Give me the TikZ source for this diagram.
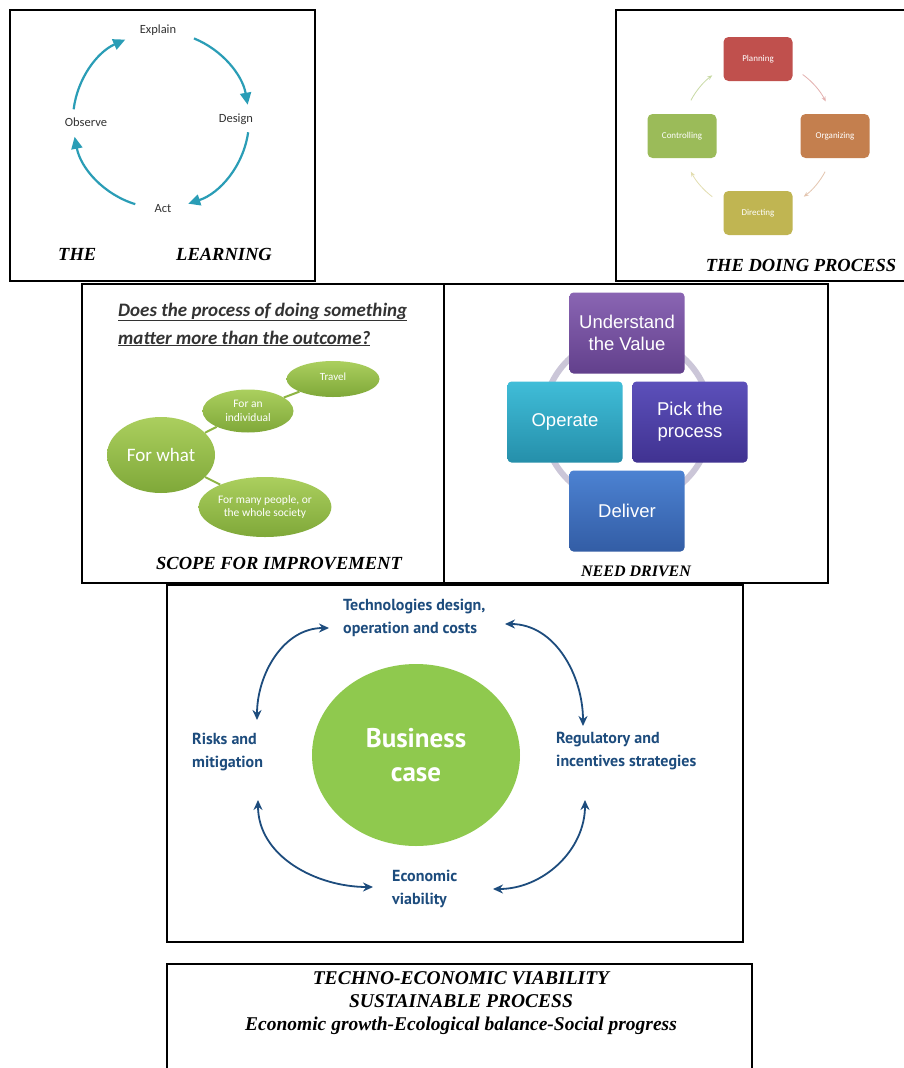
\documentclass[tikz,border=0pt]{standalone}
\usepackage{fontspec}
\setmainfont{Liberation Serif}
\newfontfamily\carl{Carlito}
\newfontfamily\arial{Liberation Sans}
\newfontfamily\ptsans{PT Sans}
\usetikzlibrary{arrows.meta,shapes.geometric,calc}

\definecolor{cycteal}{HTML}{2A9DB6}
\definecolor{plan}{HTML}{C0504D}
\definecolor{orgz}{HTML}{C47F4E}
\definecolor{dirc}{HTML}{C0B552}
\definecolor{ctrl}{HTML}{9BBB59}
\definecolor{leafhi}{HTML}{ABCF5E}
\definecolor{leaflo}{HTML}{7FA839}
\definecolor{twigc}{HTML}{8DB443}
\definecolor{ringc}{HTML}{CBC6D8}
\definecolor{undhi}{HTML}{8A65B3}
\definecolor{undlo}{HTML}{62408C}
\definecolor{pickhi}{HTML}{5C50BA}
\definecolor{picklo}{HTML}{403291}
\definecolor{operhi}{HTML}{40BDD8}
\definecolor{operlo}{HTML}{258FAA}
\definecolor{delhi}{HTML}{4C82D2}
\definecolor{dello}{HTML}{335DA5}
\definecolor{bizgreen}{HTML}{8FC94E}
\definecolor{navy}{HTML}{1D4C7D}

\tikzset{
  frame/.style={draw=black, line width=1.5pt},
  caption/.style={font=\fontsize{18.5}{22}\selectfont\bfseries\itshape, inner sep=0pt},
  cyclbl/.style={font=\carl\fontsize{12.5}{14}\selectfont, text=black!80, inner sep=1pt},
  cycarrow/.style={draw=cycteal, line width=2.2pt, -{Triangle[length=12pt,width=11pt]}},
  dobox/.style={rounded corners=5pt, minimum width=69pt, minimum height=44pt,
    text=white, font=\carl\fontsize{9}{11}\selectfont, inner sep=1pt},
  doarrow/.style={line width=0.8pt, -{Stealth[length=5pt,width=4pt]}},
  leaf/.style={ellipse, top color=leafhi, bottom color=leaflo, text=white,
    align=center, inner sep=0pt, font=\carl\fontsize{11.5}{13.5}\selectfont},
  twig/.style={draw=twigc, line width=2pt},
  needbox/.style={rounded corners=4pt, minimum width=115pt, minimum height=81pt,
    text=white, align=center, font=\arial\fontsize{18.5}{22}\selectfont, inner sep=1pt},
  bizlbl/.style={font=\ptsans\bfseries\fontsize{16}{22.5}\selectfont, text=navy,
    align=left, inner sep=0pt},
  bizarrow/.style={draw=navy, line width=1.8pt,
    {Stealth[length=10pt,width=9pt]}-{Stealth[length=10pt,width=9pt]}}
}

\begin{document}
\begin{tikzpicture}[x=1pt,y=-1pt]
\useasboundingbox (0,0) rectangle (904,1068);
\fill[white] (0,0) rectangle (904,1068);

% ---------- panel frames ----------
\draw[frame] (10,10) rectangle (315,281);
\draw[frame] (910,10) -- (616,10) -- (616,281) -- (910,281);
\draw[frame] (82,284) rectangle (444,583);
\draw[frame] (444,284) rectangle (828,583);
\draw[frame] (167,585) rectangle (743,942);
\draw[frame] (167,1075) -- (167,964) -- (752,964) -- (752,1075);

% ---------- learning cycle ----------
\coordinate (lc) at (161,120);
\node[cyclbl] (explain) at (158,30) {Explain};
\node[cyclbl] (design)  at (236,119) {Design};
\node[cyclbl] (act)     at (163,209) {Act};
\node[cyclbl] (observe) at (86,122) {Observe};
\draw[cycarrow] ([shift={(-68:88)}]lc) arc[start angle=-68, end angle=-10, radius=88];
\draw[cycarrow] ([shift={(8:88)}]lc) arc[start angle=8, end angle=72, radius=88];
\draw[cycarrow] ([shift={(107:88)}]lc) arc[start angle=107, end angle=169, radius=88];
\draw[cycarrow] ([shift={(187:88)}]lc) arc[start angle=187, end angle=246, radius=88];
\node[caption, anchor=base west] (the) at (58,260) {THE};
\node[caption, anchor=base west] (learning) at (176,260) {LEARNING};

% ---------- doing process ----------
\coordinate (dc) at (758,136);
\node[dobox, fill=plan] (planning) at (758,59) {Planning};
\node[dobox, fill=orgz] (organizing) at (835,136) {Organizing};
\node[dobox, fill=dirc] (directing) at (758,213) {Directing};
\node[dobox, fill=ctrl] (controlling) at (682,136) {Controlling};
\draw[doarrow, draw=plan!45] ([shift={(-54:76)}]dc) arc[start angle=-54, end angle=-27, radius=76];
\draw[doarrow, draw=orgz!45] ([shift={(28:76)}]dc) arc[start angle=28, end angle=53, radius=76];
\draw[doarrow, draw=dirc!45] ([shift={(127:76)}]dc) arc[start angle=127, end angle=152, radius=76];
\draw[doarrow, draw=ctrl!55] ([shift={(208:76)}]dc) arc[start angle=208, end angle=233, radius=76];
\node[caption, anchor=base] (doing) at (801,271) {THE DOING PROCESS};

% ---------- scope for improvement ----------
\node[font=\carl\bfseries\itshape\fontsize{19}{22}\selectfont, text=black!80,
      anchor=base west, inner sep=0pt] (q1) at (118,316)
      {\underline{Does the process of doing something}};
\node[font=\carl\bfseries\itshape\fontsize{19}{22}\selectfont, text=black!80,
      anchor=base west, inner sep=0pt] (q2) at (118,344)
      {\underline{matter more than the outcome?}};
\node[leaf, minimum width=108pt, minimum height=76pt,
      font=\carl\fontsize{19}{22}\selectfont] (forwhat) at (161,455) {For what};
\node[leaf, minimum width=91pt, minimum height=43pt] (indiv) at (248,411) {For an\\individual};
\node[leaf, minimum width=93pt, minimum height=36pt,
      font=\carl\fontsize{11}{13}\selectfont] (travel) at (333,379) {\raisebox{5pt}{Travel}};
\node[leaf, minimum width=124pt, minimum height=60pt] (many) at (265,507)
      {For many people, or\\the whole society};
\draw[twig] (forwhat) -- (indiv);
\draw[twig] (indiv) -- (travel);
\draw[twig] (forwhat) -- (many);
\node[caption, anchor=base] (scope) at (279,569) {SCOPE FOR IMPROVEMENT};

% ---------- need driven ----------
\draw[draw=ringc, line width=6pt] (627,420) circle[radius=84];
\node[needbox, top color=undhi, bottom color=undlo] (understand) at (627,333)
      {Understand\\the Value};
\node[needbox, top color=pickhi, bottom color=picklo] (pick) at (690,422)
      {Pick the\\process};
\node[needbox, top color=operhi, bottom color=operlo] (operate) at (565,422) {Operate};
\node[needbox, top color=delhi, bottom color=dello] (deliver) at (627,511) {Deliver};
\node[caption, font=\fontsize{16}{19}\selectfont\bfseries\itshape, anchor=base]
      (need) at (636,576) {NEED DRIVEN};

% ---------- business case ----------
\node[ellipse, fill=bizgreen, minimum width=208pt, minimum height=182pt,
      text=white, align=center, inner sep=0pt,
      font=\ptsans\bfseries\fontsize{27}{34}\selectfont] (biz) at (416,755)
      {Business\\case};
\node[bizlbl, anchor=north west] (tech) at (343,599)
      {Technologies design,\\operation and costs};
\node[bizlbl, anchor=north west] (risks) at (192,733) {Risks and\\mitigation};
\node[bizlbl, anchor=north west] (reg) at (556,732)
      {Regulatory and\\incentives strategies};
\node[bizlbl, anchor=north west] (econ) at (392,870) {Economic\\viability};
\coordinate (tlA) at (257,720);
\coordinate (tlB) at (329,628);
\coordinate (trA) at (505,624);
\coordinate (trB) at (583,726);
\coordinate (blA) at (258,800);
\coordinate (blB) at (373,887);
\coordinate (brA) at (493,889);
\coordinate (brB) at (585,800);
\draw[bizarrow] (tlA) to[out=90, in=180] (tlB);
\draw[bizarrow] (trA) to[out=0, in=90] (trB);
\draw[bizarrow] (blA) to[out=270, in=180] (blB);
\draw[bizarrow] (brA) to[out=0, in=270] (brB);

% ---------- summary ----------
\node[font=\fontsize{19.5}{23}\selectfont\bfseries\itshape, align=center,
      anchor=north, inner sep=0pt] (summary) at (461,971)
      {TECHNO-ECONOMIC VIABILITY\\SUSTAINABLE PROCESS\\Economic growth-Ecological balance-Social progress};
\end{tikzpicture}
\end{document}
